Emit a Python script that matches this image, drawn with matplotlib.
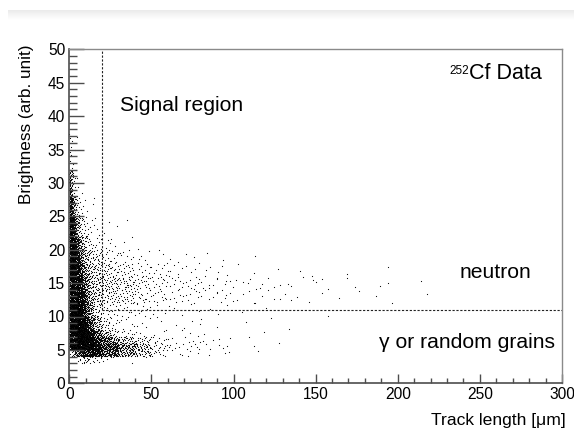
import numpy as np
import matplotlib.pyplot as plt
from matplotlib.ticker import MultipleLocator

plt.rcParams['font.family'] = ['Liberation Sans', 'DejaVu Sans']

# 2D histogram: bin edges and event density
# (events per um per brightness unit) in each cell, rows = brightness bins
x_edges = [0, 1, 2, 3, 4, 6, 8, 10, 12, 15, 20, 25, 30, 40, 50, 60, 80, 100, 130, 160, 200, 230]
y_edges = [3, 4, 5, 6, 7, 8, 10, 12, 14, 16, 18, 20, 22, 25, 28, 32, 38]
density = [
    [0, 0, 0, 0, 0.5, 1.5, 2.5, 2.5, 1.7, 0.8, 0.4, 0.2, 0.1, 0, 0, 0, 0, 0, 0, 0, 0],
    [1, 2, 3, 5, 9, 12, 16, 16, 16, 14, 9, 8, 5, 3, 0.9, 0.3, 0.15, 0.04, 0, 0, 0],
    [16, 22, 22, 22, 22, 22, 22, 22, 22, 16, 11, 10, 6, 3.5, 1.2, 0.5, 0.25, 0.06, 0.01, 0, 0],
    [20, 22, 22, 22, 22, 22, 22, 22, 22, 13, 9, 5.5, 3, 1.6, 0.7, 0.35, 0.2, 0.04, 0, 0, 0],
    [20, 22, 22, 22, 22, 22, 22, 22, 16, 9, 3.5, 1.8, 0.66, 0.33, 0.22, 0.15, 0.06, 0.03, 0, 0, 0],
    [20, 22, 22, 22, 22, 22, 22, 13, 9, 3.5, 1.3, 0.55, 0.33, 0.22, 0.16, 0.11, 0.055, 0.033, 0.01, 0, 0],
    [20, 22, 22, 22, 22, 22, 13, 9, 5, 2, 0.66, 0.55, 0.44, 0.33, 0.22, 0.13, 0.066, 0.044, 0.01, 0, 0],
    [20, 22, 22, 22, 22, 16, 12, 7, 4, 2.4, 1.8, 1.6, 1.3, 0.77, 0.55, 0.38, 0.27, 0.13, 0.09, 0.055, 0.022],
    [18, 22, 22, 22, 22, 16, 9, 5.5, 3.8, 2.8, 2, 1.8, 1.5, 0.9, 0.66, 0.44, 0.33, 0.16, 0.11, 0.044, 0.011],
    [18, 22, 22, 22, 16, 12, 6, 4, 3, 2.2, 1.6, 1.1, 0.9, 0.55, 0.44, 0.22, 0.13, 0.055, 0.033, 0.022, 0],
    [18, 22, 22, 22, 14, 7.5, 4.5, 3, 2, 1.4, 0.77, 0.55, 0.38, 0.22, 0.16, 0.09, 0.044, 0.022, 0, 0, 0],
    [18, 22, 22, 16, 10, 5, 3, 1.8, 0.77, 0.55, 0.33, 0.22, 0.11, 0.066, 0, 0, 0, 0, 0, 0, 0],
    [18, 22, 16, 11, 5, 2.2, 1.1, 0.66, 0.44, 0.22, 0.11, 0.055, 0.033, 0, 0, 0, 0, 0, 0, 0, 0],
    [16, 13, 6.6, 3.9, 1.6, 0.66, 0.33, 0.16, 0.11, 0.055, 0, 0, 0, 0, 0, 0, 0, 0, 0, 0, 0],
    [9, 4.4, 1.6, 0.66, 0.33, 0.11, 0.055, 0, 0, 0, 0, 0, 0, 0, 0, 0, 0, 0, 0, 0, 0],
    [0.9, 0.44, 0.22, 0.11, 0.044, 0, 0, 0, 0, 0, 0, 0, 0, 0, 0, 0, 0, 0, 0, 0, 0],
]

cut_length = 20      # um
cut_brightness = 11  # arb. unit


def halton(idx, base):
    # van der Corput / Halton sequence, deterministic fill inside a cell
    idx = np.asarray(idx)
    res = np.zeros(idx.shape)
    f = 1.0
    i = idx.copy()
    while np.any(i > 0):
        f /= base
        res += f * (i % base)
        i //= base
    return res


xs, ys = [], []
start = 1
for j in range(len(y_edges) - 1):
    for i in range(len(x_edges) - 1):
        w = x_edges[i + 1] - x_edges[i]
        h = y_edges[j + 1] - y_edges[j]
        n = int(round(density[j][i] * w * h))
        if n == 0:
            continue
        k = np.arange(start, start + n)
        start += n
        xs.append(x_edges[i] + w * halton(k, 2))
        ys.append(y_edges[j] + h * halton(k, 3))
xs = np.concatenate(xs)
ys = np.concatenate(ys)

fig = plt.figure(figsize=(5.74, 4.32), dpi=100)

# faint grey band at the top of the page
band = fig.add_axes([8 / 574, 1 - 20 / 432, 1 - 8 / 574, 10 / 432])
band.imshow(np.linspace(0.92, 1.0, 20).reshape(-1, 1), cmap='gray', vmin=0, vmax=1,
            aspect='auto', extent=[0, 1, 0, 1])
band.axis('off')

ax = fig.add_axes([69.3 / 574, 1 - 383.3 / 432, 492.7 / 574, 334 / 432])
ax.scatter(xs, ys, s=0.7, marker='o', color='black', linewidths=0)

ax.plot([cut_length, cut_length], [cut_brightness, 50], color='#222', lw=0.8,
        linestyle=(0, (2, 1.5)))
ax.plot([cut_length, 300], [cut_brightness, cut_brightness], color='#222', lw=0.8,
        linestyle=(0, (2, 1.5)))

ax.set_xlim(0, 300)
ax.set_ylim(0, 50)
ax.xaxis.set_major_locator(MultipleLocator(50))
ax.xaxis.set_minor_locator(MultipleLocator(10))
ax.yaxis.set_major_locator(MultipleLocator(5))
ax.yaxis.set_minor_locator(MultipleLocator(1))

axcol = '#4d4d4d'
ax.tick_params(axis='x', which='major', direction='in', length=6.7, width=1, color=axcol,
               labelsize=11.2, pad=3)
ax.tick_params(axis='x', which='minor', direction='in', length=3.8, width=1, color=axcol)
ax.tick_params(axis='y', which='major', direction='in', length=11, width=1, color=axcol,
               labelsize=11.2, pad=3)
ax.tick_params(axis='y', which='minor', direction='in', length=5.5, width=1, color=axcol)
for s in ['left', 'bottom']:
    ax.spines[s].set_color(axcol)
    ax.spines[s].set_linewidth(1.2)
for s in ['top', 'right']:
    ax.spines[s].set_color('#8a8a8a')
    ax.spines[s].set_linewidth(1)

ax.text(30.9, 40.8, 'Signal region', fontsize=15.2, ha='left', va='baseline')
cf = ax.text(287.7, 45.5, 'Cf Data', fontsize=15.5, ha='right', va='baseline')
ax.annotate('252', xy=(0, 0.93), xycoords=cf, ha='right', va='top', fontsize=8.5)
ax.text(281.6, 15.8, 'neutron', fontsize=15.2, ha='right', va='baseline')
ax.text(295.8, 5.24, 'γ or random grains', fontsize=15.2, ha='right', va='baseline')

fig.text(566 / 574, 1 - 425 / 432, 'Track length [μm]', fontsize=12.6,
         ha='right', va='baseline')
fig.text(27 / 574, 1 - 44 / 432, 'Brightness (arb. unit)', fontsize=12.3,
         rotation=90, ha='center', va='top')

fig.savefig('out.png', dpi=100)
